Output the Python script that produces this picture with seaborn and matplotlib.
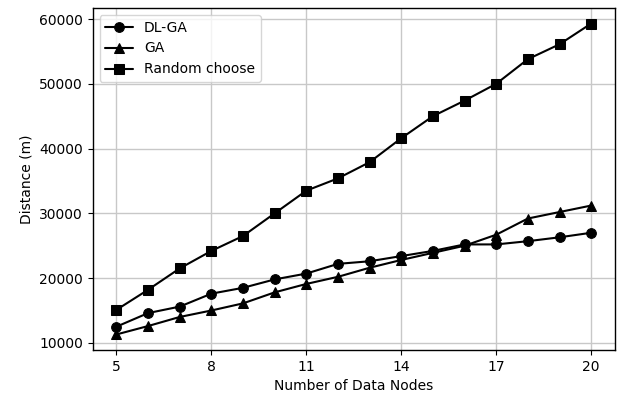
import matplotlib
matplotlib.use("Agg")
import matplotlib.pyplot as plt
import seaborn as sns
import pandas as pd

nodes = list(range(5, 21))
dl_ga = [12500, 14600, 15600, 17600, 18500, 19800, 20700, 22200, 22600, 23400, 24200, 25200, 25200, 25700, 26300, 27000]
ga = [11300, 12600, 14000, 15000, 16100, 17800, 19100, 20200, 21600, 22800, 23900, 25000, 26700, 29200, 30200, 31200]
random_choose = [15100, 18200, 21500, 24200, 26500, 30000, 33500, 35400, 37900, 41600, 45000, 47400, 50000, 53800, 56100, 59300]
series_names = ["DL-GA", "GA", "Random choose"]
xticks = [5, 8, 11, 14, 17, 20]

sns.set_style("ticks")
plt.rcParams['font.family'] = ['DejaVu Sans']
plt.rcParams['text.color'] = 'black'
plt.rcParams['axes.labelcolor'] = 'black'
plt.rcParams['xtick.color'] = 'black'
plt.rcParams['ytick.color'] = 'black'

df = pd.DataFrame({
    "nodes": nodes * 3,
    "dist": dl_ga + ga + random_choose,
    "method": [series_names[0]] * len(nodes) + [series_names[1]] * len(nodes) + [series_names[2]] * len(nodes),
})

fig, ax = plt.subplots(figsize=(6.18, 4.0), dpi=100)
fig.subplots_adjust(left=0.15, right=0.995, top=0.98, bottom=0.125)

markers = {"DL-GA": "o", "GA": "^", "Random choose": "s"}
for name in series_names:
    sub = df[df["method"] == name]
    sns.lineplot(data=sub, x="nodes", y="dist", ax=ax, color="black", marker=markers[name],
                 markersize=7, linewidth=1.5, label=name, markeredgecolor="black")

ax.set_xticks(xticks)
ax.grid(True, color="#c8c8c8", linewidth=1)
ax.set_axisbelow(True)
ax.set_xlabel("Number of Data Nodes", fontsize=10)
ax.set_ylabel("Distance (m)", fontsize=10)
ax.tick_params(labelsize=10, direction="out", length=3.5, colors="black")
for s in ax.spines.values():
    s.set_color("black")
    s.set_linewidth(1)
leg = ax.legend(loc="upper left", fontsize=10, frameon=True)
leg.get_frame().set_edgecolor("#cccccc")
fig.savefig("out.png", dpi=100)
